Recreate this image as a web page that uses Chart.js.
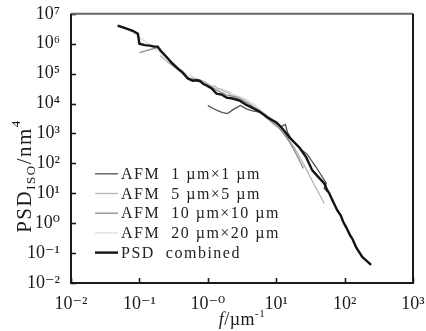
<!DOCTYPE html>
<html>
<head>
<meta charset="utf-8">
<script src="https://cdn.jsdelivr.net/npm/chart.js@4.4.1/dist/chart.umd.min.js"></script>
<style>
  html, body { margin: 0; padding: 0; background: #fff; }
</style>
</head>
<body>
<canvas id="myChart" width="426" height="331"></canvas>
<script>
// series names (legend order)
const seriesLabels = ["AFM  1 \u00b5m\u00d71 \u00b5m", "AFM  5 \u00b5m\u00d75 \u00b5m", "AFM  10 \u00b5m\u00d710 \u00b5m", "AFM  20 \u00b5m\u00d720 \u00b5m", "PSD  combined"];
const seriesColors = ["#505050", "#b4b4b4", "#8c8c8c", "#dedede", "#141414"];

// tick positions (powers of ten)
const xTickExps = [-2, -1, 0, 1, 2, 3];
const yTickExps = [-2, -1, 0, 1, 2, 3, 4, 5, 6, 7];

// AFM 1 um x 1 um
const f1 = [1.0, 1.2, 1.39, 1.65, 1.94, 2.4, 3.0, 3.6, 4.35, 6.1, 8.5, 11.9, 13.6, 14.6, 17.2, 20.4, 24.1, 28.5, 32.6, 38.5, 45.6, 54, 50.4, 55.7];
const psd1 = [8.6e3, 6.8e3, 5.8e3, 5.0e3, 4.6e3, 6.5e3, 8.6e3, 6.8e3, 5.8e3, 5.0e3, 2.9e3, 1.7e3, 2.0e3, 1.08e3, 580, 400, 270, 200, 126, 74, 40, 21.5, 14.7, 11.5];

// AFM 5 um x 5 um
const f5 = [0.2, 0.277, 0.35, 0.43, 0.52, 0.64, 0.75, 0.9, 1.0, 1.14, 1.25, 1.39, 1.55, 1.76, 2.0, 2.22, 2.5, 2.91, 3.4, 4.06, 4.8, 5.69, 6.7, 7.96, 9.5, 11.1, 13.2, 15.6, 18.5, 21.8, 25.5, 30.5, 35, 39.9, 45, 50.4];
const psd5 = [4.0e5, 2.15e5, 1.5e5, 1.0e5, 7.2e4, 6.8e4, 6.2e4, 5.4e4, 4.6e4, 3.7e4, 3.9e4, 3.2e4, 3.0e4, 2.5e4, 2.3e4, 1.85e4, 1.75e4, 1.58e4, 1.3e4, 1.0e4, 8.0e3, 5.8e3, 4.4e3, 3.2e3, 2.2e3, 1.47e3, 950, 580, 330, 170, 90, 40, 22, 12.6, 7.5, 4.6];

// AFM 10 um x 10 um
const f10 = [0.1, 0.12, 0.142, 0.165, 0.185, 0.25, 0.33, 0.42, 0.54, 0.7, 0.9, 1.15, 1.49, 1.9, 2.46, 3.2, 4.06, 5.2, 6.7, 8.5, 11.1, 13.2, 15.6, 18, 20.4, 22.5, 25];
const psd10 = [5.0e5, 5.6e5, 6.3e5, 7.0e5, 7.4e5, 3.4e5, 2.0e5, 1.1e5, 6.8e4, 5.6e4, 4.6e4, 3.4e4, 2.5e4, 1.9e4, 1.7e4, 1.25e4, 9.3e3, 6.0e3, 4.0e3, 2.4e3, 1.5e3, 900, 520, 300, 170, 110, 68];

// AFM 20 um x 20 um
const f20 = [0.05, 0.06, 0.072, 0.085, 0.1, 0.12, 0.142, 0.18, 0.234, 0.3, 0.39, 0.5, 0.64, 0.8, 1.06, 1.35, 1.76, 2.3, 2.91, 3.7, 4.81, 6.2, 7.96, 10, 12.7];
const psd20 = [4.3e6, 3.5e6, 2.7e6, 2.2e6, 1.6e6, 1.2e6, 9.3e5, 6.0e5, 3.7e5, 2.3e5, 1.47e5, 9.5e4, 7.4e4, 5.6e4, 4.3e4, 3.3e4, 2.9e4, 2.1e4, 1.7e4, 1.35e4, 9.3e3, 5.5e3, 3.7e3, 2.2e3, 1.26e3];

// PSD combined
const fComb = [0.048, 0.065, 0.08, 0.095, 0.1, 0.12, 0.142, 0.165, 0.185, 0.205, 0.25, 0.296, 0.36, 0.43, 0.51, 0.6, 0.68, 0.76, 0.86, 0.96, 1.14, 1.34, 1.59, 1.88, 2.3, 2.91, 3.56, 4.35, 5.69, 7.45, 10.1, 12.3, 15.6, 21.8, 27.5, 33.7, 42.7, 50.4, 55.7, 59.7, 66, 72, 78, 88, 95, 105, 120, 130, 147, 160, 181, 210, 244];
const psdComb = [4.0e6, 3.2e6, 2.7e6, 2.15e6, 1.0e6, 9.0e5, 8.6e5, 8.0e5, 8.0e5, 5.8e5, 3.6e5, 2.3e5, 1.5e5, 1.08e5, 6.8e4, 5.8e4, 6.0e4, 5.8e4, 4.5e4, 4.0e4, 3.2e4, 2.15e4, 2.0e4, 1.58e4, 1.47e4, 1.26e4, 9.3e3, 7.4e3, 5.4e3, 3.4e3, 2.33e3, 1.47e3, 740, 340, 158, 58, 32, 21.5, 12.6, 10, 6.0, 4.0, 2.7, 1.8, 1.14, 0.74, 0.4, 0.3, 0.158, 0.117, 0.074, 0.055, 0.04];

const xs = [f1, f5, f10, f20, fComb];
const ys = [psd1, psd5, psd10, psd20, psdComb];
const widths = [1.3, 1.3, 1.3, 1.3, 2.4];
const orders = [1, 3, 2, 4, 0];

const sup = { "-": "\u207b", "0": "\u2070", "1": "\u00b9", "2": "\u00b2", "3": "\u00b3", "4": "\u2074", "5": "\u2075", "6": "\u2076", "7": "\u2077" };
const toSup = s => String(s).split("").map(c => sup[c]).join("");
const serif = "'Liberation Serif', 'DejaVu Serif', serif";

const frame = {
  id: "frame",
  afterDatasetsDraw(chart) {
    const { ctx, chartArea: a, scales: { x, y } } = chart;
    ctx.save();
    ctx.strokeStyle = "#1a1a1a";
    ctx.lineWidth = 1.6;
    x.ticks.forEach(t => {
      const px = Math.round(x.getPixelForValue(t.value)) + 0.5;
      ctx.beginPath(); ctx.moveTo(px, a.bottom); ctx.lineTo(px, a.bottom - 5); ctx.stroke();
    });
    y.ticks.forEach(t => {
      const py = Math.round(y.getPixelForValue(t.value)) + 0.5;
      ctx.beginPath(); ctx.moveTo(a.left, py); ctx.lineTo(a.left + 5, py); ctx.stroke();
    });
    ctx.lineWidth = 2;
    ctx.strokeStyle = "#666";
    ctx.beginPath(); ctx.moveTo(a.left, a.top); ctx.lineTo(a.right, a.top); ctx.stroke();
    ctx.strokeStyle = "#1a1a1a";
    ctx.beginPath();
    ctx.moveTo(a.right, a.top); ctx.lineTo(a.right, a.bottom); ctx.lineTo(a.left, a.bottom); ctx.lineTo(a.left, a.top);
    ctx.stroke();

    // legend inside the plot
    const lx = a.left + 24, ly0 = a.top + 160, step = 19.7;
    ctx.font = "16px " + serif;
    ctx.letterSpacing = "1.5px";
    ctx.textBaseline = "middle";
    chart.data.datasets.forEach((ds, i) => {
      const yy = ly0 + i * step;
      ctx.strokeStyle = ds.borderColor;
      ctx.lineWidth = ds.borderWidth;
      ctx.beginPath(); ctx.moveTo(lx, yy); ctx.lineTo(lx + 23, yy); ctx.stroke();
      ctx.fillStyle = "#222";
      ctx.fillText(ds.label, lx + 26, yy + 1);
    });

    // axis titles
    ctx.fillStyle = "#1a1a1a";
    ctx.textBaseline = "alphabetic";
    ctx.letterSpacing = "0.5px";
    // x title: f/um^-1
    const parts = [["italic 18px " + serif, "f", 0], ["18px " + serif, "/\u00b5m", 0], ["11px " + serif, "-1", -8]];
    let total = 0;
    parts.forEach(p => { ctx.font = p[0]; total += ctx.measureText(p[1]).width; });
    let cx = (a.left + a.right) / 2 - total / 2;
    parts.forEach(p => { ctx.font = p[0]; ctx.fillText(p[1], cx, 325 + p[2]); cx += ctx.measureText(p[1]).width; });
    // y title: PSD_ISO/nm^4
    ctx.letterSpacing = "1.5px";
    const yparts = [["21px " + serif, "PSD", 0], ["13px " + serif, "ISO", 4], ["21px " + serif, "/nm", 0], ["13px " + serif, "4", -11]];
    total = 0;
    yparts.forEach(p => { ctx.font = p[0]; total += ctx.measureText(p[1]).width; });
    ctx.translate(31, 176);
    ctx.rotate(-Math.PI / 2);
    cx = -total / 2;
    yparts.forEach(p => { ctx.font = p[0]; ctx.fillText(p[1], cx, p[2]); cx += ctx.measureText(p[1]).width; });
    ctx.restore();
  }
};

const datasets = seriesLabels.map((label, i) => ({
  label: label,
  data: xs[i].map((f, j) => ({ x: f, y: ys[i][j] })),
  borderColor: seriesColors[i],
  borderWidth: widths[i],
  pointRadius: 0,
  tension: 0,
  fill: false,
  order: orders[i]
}));

const tickFont = { family: serif, size: 18 };

new Chart(document.getElementById("myChart"), {
  type: "line",
  data: { datasets: datasets },
  options: {
    responsive: false,
    animation: false,
    devicePixelRatio: 1,
    layout: { padding: { top: 13, right: 0, left: 0, bottom: 0 } },
    plugins: { legend: { display: false }, tooltip: { enabled: false } },
    scales: {
      x: {
        type: "logarithmic",
        min: 0.01,
        max: 1000,
        afterBuildTicks: s => { s.ticks = xTickExps.map(e => ({ value: Math.pow(10, e) })); },
        afterFit: s => { s.height = 48; s.paddingRight = 13; s.paddingLeft = 0; },
        grid: { display: false },
        border: { display: false },
        ticks: {
          color: "#1a1a1a",
          font: tickFont,
          padding: 2,
          maxRotation: 0,
          autoSkip: false,
          callback: v => { const e = Math.round(Math.log10(v)); return "10" + (e === 0 ? "\u207b\u2070" : toSup(e)); }
        }
      },
      y: {
        type: "logarithmic",
        min: 0.01,
        max: 1e7,
        afterBuildTicks: s => { s.ticks = yTickExps.map(e => ({ value: Math.pow(10, e) })); },
        afterFit: s => { s.width = 71; },
        grid: { display: false },
        border: { display: false },
        ticks: {
          color: "#1a1a1a",
          font: tickFont,
          padding: 3,
          autoSkip: false,
          callback: v => "10" + toSup(Math.round(Math.log10(v)))
        }
      }
    }
  },
  plugins: [frame]
});
</script>
</body>
</html>
